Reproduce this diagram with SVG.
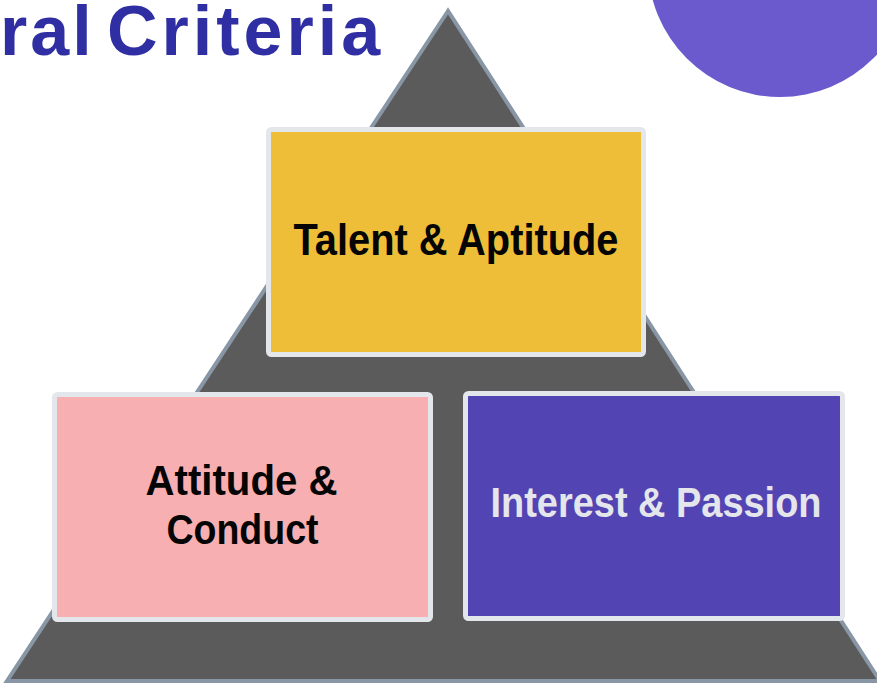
<svg xmlns="http://www.w3.org/2000/svg" width="877" height="683" viewBox="0 0 877 683">
<style>
.box{stroke:#e3e6ea;stroke-width:5}
.lbl{font-family:"Liberation Sans",Arial,sans-serif;font-weight:bold;text-anchor:middle}
</style>
<rect width="877" height="683" fill="#ffffff"/>
<g id="circle"><circle cx="780" cy="-35" r="132" fill="#6a5acd"/></g>
<g id="title"><text x="0" y="55" font-family="Liberation Sans,Arial,sans-serif" font-weight="bold" font-size="70" fill="#2f2fa3" letter-spacing="3">ral <tspan x="107" letter-spacing="4">Criteria</tspan></text></g>
<g id="pyramid"><polygon points="448,11 7,681 880,681" fill="#5b5b5b" stroke="#8896a6" stroke-width="4" stroke-linejoin="miter"/></g>
<g id="connectors"></g>
<g id="talent">
<rect class="box" x="268.5" y="129.5" width="375" height="225" rx="3" fill="#eebe38"/>
<text class="lbl" x="456" y="255" font-size="44" fill="#050505" textLength="325" lengthAdjust="spacingAndGlyphs">Talent &amp; Aptitude</text>
</g>
<g id="attitude">
<rect class="box" x="54.5" y="394.5" width="376" height="225" rx="3" fill="#f7afb1"/>
<text class="lbl" x="241.5" y="495" font-size="43" fill="#050505" textLength="192" lengthAdjust="spacingAndGlyphs">Attitude &amp;</text>
<text class="lbl" x="242.5" y="544" font-size="43" fill="#050505" textLength="152" lengthAdjust="spacingAndGlyphs">Conduct</text>
</g>
<g id="interest">
<rect class="box" x="465.5" y="393.5" width="377" height="225" rx="3" fill="#5344b3"/>
<text class="lbl" x="656" y="517" font-size="42" fill="#e4e6ec" textLength="331" lengthAdjust="spacingAndGlyphs">Interest &amp; Passion</text>
</g>
</svg>
